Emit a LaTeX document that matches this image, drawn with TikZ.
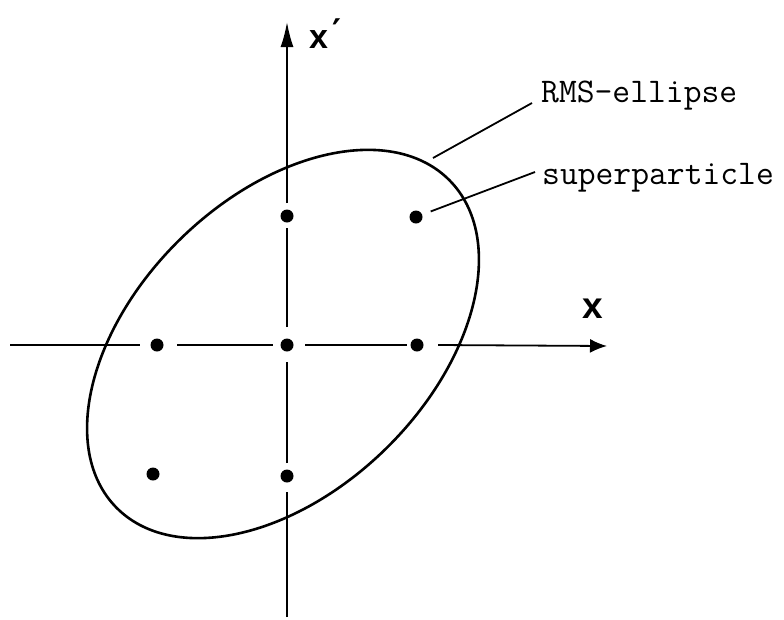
\documentclass[tikz,border=0pt]{standalone}
\usepackage{fontspec}
\setmainfont{Liberation Sans}
\newfontfamily\dejafont{DejaVu Sans}
\usetikzlibrary{arrows.meta}
\begin{document}
\begin{tikzpicture}[x=1pt,y=-1pt,
  axisline/.style={line width=1.8pt},
  dot/.style={circle,fill=black,inner sep=0pt,minimum size=13pt},
  leader/.style={line width=1.8pt},
  lbl/.style={font=\ttfamily\fontsize{34.6}{36}\selectfont,anchor=base west,inner sep=0pt},
  axlbl/.style={anchor=base west,inner sep=0pt}]
\useasboundingbox (0,0) rectangle (784,619);

% superparticles
\node[dot] (d1) at (287,216) {};
\node[dot] (d2) at (416,217) {};
\node[dot] (d3) at (157,345) {};
\node[dot] (d4) at (287,345) {};
\node[dot] (d5) at (417,345) {};
\node[dot] (d6) at (153,474) {};
\node[dot] (d7) at (287,476) {};

% horizontal axis pieces
\coordinate (h0) at (10,345);
\coordinate (h1) at (140,345);
\coordinate (h2) at (177,345);
\coordinate (h3) at (273,345);
\coordinate (h4) at (305,345);
\coordinate (h5) at (407,345);
\coordinate (h6) at (438,345);
\coordinate (htip) at (607,346);
\draw[axisline] (h0) -- (h1);
\draw[axisline] (h2) -- (h3);
\draw[axisline] (h4) -- (h5);
\draw[axisline,-{Latex[length=17pt,width=14pt]}] (h6) -- (htip);

% vertical axis pieces
\coordinate (v0) at (287,617);
\coordinate (v1) at (287,492);
\coordinate (v2) at (287,463);
\coordinate (v3) at (287,362);
\coordinate (v4) at (287,327);
\coordinate (v5) at (287,228);
\coordinate (v6) at (287,203);
\coordinate (vtip) at (287,22);
\draw[axisline] (v0) -- (v1);
\draw[axisline] (v2) -- (v3);
\draw[axisline] (v4) -- (v5);
\draw[axisline,-{Latex[length=25pt,width=13pt]}] (v6) -- (vtip);

% RMS ellipse
\coordinate (ec) at (283,344);
\draw[line width=2.6pt,rotate around={44.4:(ec)}] (ec) ellipse [x radius=233.5,y radius=146.8];

% axis labels
\node[axlbl,font=\bfseries\fontsize{34}{40}\selectfont] (xp) at (309,48) {x\hspace{4pt}\raisebox{5pt}{\dejafont\bfseries ′}};
\node[axlbl,font=\bfseries\fontsize{37}{42}\selectfont] (xl) at (582,318) {x};

% text labels and leaders
\node[lbl] (rms) at (541,102) {RMS-ellipse};
\node[lbl] (sp) at (542,184) {superparticle};
\coordinate (r1) at (433,158);
\coordinate (r2) at (532,103);
\coordinate (s2) at (535,172);
\draw[leader] (r1) -- (r2);
\draw[leader,shorten <=9pt] (d2) -- (s2);
\end{tikzpicture}
\end{document}
